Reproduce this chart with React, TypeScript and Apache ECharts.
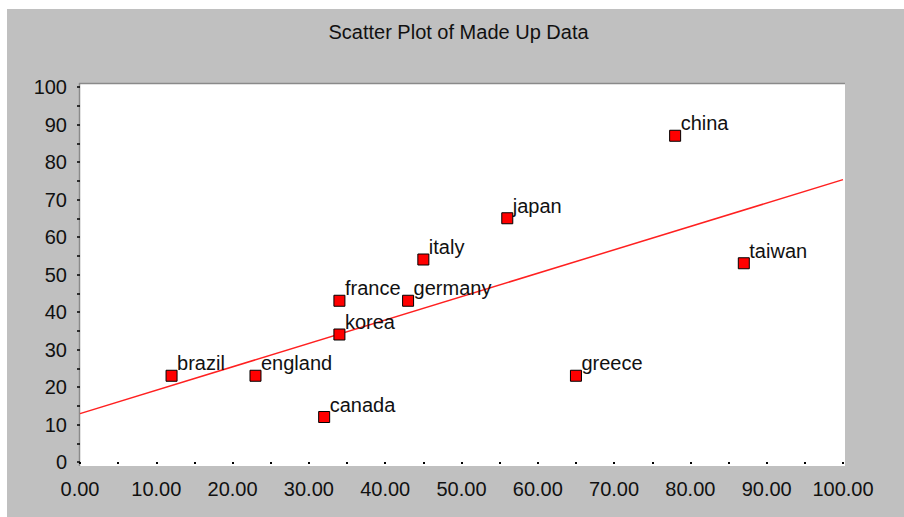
import React, { useEffect, useRef } from "react";
import * as echarts from "echarts";

const countries = ["brazil", "england", "canada", "korea", "france", "germany", "italy", "japan", "greece", "china", "taiwan"];
const xValues = [12, 23, 32, 34, 34, 43, 45, 56, 65, 78, 87];
const yValues = [23, 23, 12, 34, 43, 43, 54, 65, 23, 87, 53];
const trendX = [0, 100];
const trendY = [12.9, 75.3];
const titleText = "Scatter Plot of Made Up Data";

const FONT = "'Liberation Sans', Arial, sans-serif";

export default function App() {
  const ref = useRef<HTMLDivElement>(null);
  useEffect(() => {
    if (!ref.current) return;
    const chart = echarts.init(ref.current, null, { renderer: "svg" });
    const points = countries.map((n, i) => ({ name: n, value: [xValues[i], yValues[i]] }));
    const trend = trendX.map((x, i) => [x, trendY[i]]);
    chart.setOption({
      animation: false,
      backgroundColor: "#ffffff",
      textStyle: { fontFamily: FONT },
      graphic: [
        { type: "rect", z: -10, shape: { x: 7, y: 9, width: 897, height: 508 }, style: { fill: "#c0c0c0" }, silent: true },
        { type: "rect", z: -9, shape: { x: 79, y: 83, width: 766, height: 383 }, style: { fill: "#ffffff" }, silent: true },
        { type: "line", z: -8, shape: { x1: 79, y1: 83.5, x2: 845, y2: 83.5 }, style: { stroke: "#8a8a8a", lineWidth: 1.5 }, silent: true },
        { type: "line", z: -8, shape: { x1: 79.5, y1: 83, x2: 79.5, y2: 466 }, style: { stroke: "#8a8a8a", lineWidth: 1.5 }, silent: true },
        {
          type: "text",
          x: 458.5,
          y: 32,
          style: { text: titleText, fill: "#111", font: `20px ${FONT}`, align: "center", verticalAlign: "middle" },
          silent: true,
        },
      ],
      grid: { left: 80, right: 61, top: 87, bottom: 55, containLabel: false },
      xAxis: {
        type: "value",
        min: 0,
        max: 100,
        interval: 5,
        offset: 5,
        axisLine: { show: false },
        splitLine: { show: false },
        axisTick: { show: true, length: 2, lineStyle: { color: "#000", width: 2 } },
        axisLabel: {
          margin: 12,
          color: "#111",
          fontSize: 20,
          fontFamily: FONT,
          formatter: (v: number) => (v % 10 === 0 ? v.toFixed(2) : ""),
        },
      },
      yAxis: {
        type: "value",
        min: 0,
        max: 100,
        interval: 5,
        axisLine: { show: false },
        splitLine: { show: false },
        axisTick: { show: true, length: 3, lineStyle: { color: "#000", width: 1.5 } },
        axisLabel: {
          margin: 13,
          color: "#111",
          fontSize: 20,
          fontFamily: FONT,
          formatter: (v: number) => (v % 10 === 0 ? String(v) : ""),
        },
      },
      series: [
        {
          type: "line",
          data: trend,
          symbol: "none",
          lineStyle: { color: "#ff2020", width: 1.5 },
          z: 2,
          silent: true,
        },
        {
          type: "scatter",
          data: points,
          symbol: "rect",
          symbolSize: 11,
          itemStyle: { color: "#ff0000", borderColor: "#000", borderWidth: 1, opacity: 1 },
          label: {
            show: true,
            formatter: (p: any) => p.name,
            position: [11.5, -6.5],
            align: "left",
            verticalAlign: "middle",
            color: "#111",
            fontSize: 20,
            fontFamily: FONT,
          },
          z: 3,
        },
      ],
    });
    return () => chart.dispose();
  }, []);
  return <div ref={ref} style={{ position: "absolute", left: 0, top: 0, width: 904, height: 517 }} />;
}
